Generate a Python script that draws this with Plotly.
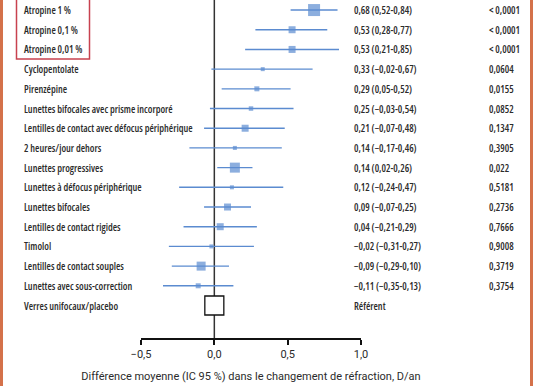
import plotly.graph_objects as go

labels = ["Atropine 1 %", "Atropine 0,1 %", "Atropine 0,01 %", "Cyclopentolate", "Pirenzépine",
          "Lunettes bifocales avec prisme incorporé", "Lentilles de contact avec défocus périphérique",
          "2 heures/jour dehors", "Lunettes progressives", "Lunettes à défocus périphérique",
          "Lunettes bifocales", "Lentilles de contact rigides", "Timolol",
          "Lentilles de contact souples", "Lunettes avec sous-correction"]
ref_label = "Verres unifocaux/placebo"
ref_text = "Référent"
estimate = [0.68, 0.53, 0.53, 0.33, 0.29, 0.25, 0.21, 0.14, 0.14, 0.12, 0.09, 0.04, -0.02, -0.09, -0.11]
ci_low = [0.52, 0.28, 0.21, -0.02, 0.05, -0.03, -0.07, -0.17, 0.02, -0.24, -0.07, -0.21, -0.31, -0.29, -0.35]
ci_high = [0.84, 0.77, 0.85, 0.67, 0.52, 0.54, 0.48, 0.46, 0.26, 0.47, 0.25, 0.29, 0.27, 0.10, 0.13]
p_values = ["< 0,0001", "< 0,0001", "< 0,0001", "0,0604", "0,0155", "0,0852", "0,1347", "0,3905",
            "0,022", "0,5181", "0,2736", "0,7666", "0,9008", "0,3719", "0,3754"]
weights = [12, 7, 7, 4, 5, 4.5, 7, 4, 10, 4, 7, 7, 4, 9, 5]
tick_vals = [-0.5, 0.0, 0.5, 1.0]
tick_text = ["−0,5", "0,0", "0,5", "1,0"]
x_title = "Différence moyenne (IC 95 %) dans le changement de réfraction, D/an"

W, H = 536, 386
L, R, T, B = 141, 175, 0, 48
pw = W - L - R
ph = H - T - B
BLUE = "#5b8bd0"
TXT = "#2b2b2b"
LABEL_FONT = dict(family="Open Sans, Roboto, sans-serif", size=10, color=TXT, weight=600)


def fmt(v):
    s = f"{abs(v):.2f}".replace(".", ",")
    return ("−" + s) if v < 0 else s


rows = list(range(len(labels)))
ref_row = len(labels)

lx, ly = [], []
for i, (lo, hi) in enumerate(zip(ci_low, ci_high)):
    lx += [lo, hi, None]
    ly += [i, i, None]

fig = go.Figure()
fig.add_trace(go.Scatter(x=lx, y=ly, mode="lines", line=dict(color=BLUE, width=1.4),
                         hoverinfo="skip", showlegend=False))
fig.add_trace(go.Scatter(x=estimate, y=rows, mode="markers",
                         marker=dict(symbol="square", size=weights, color=BLUE, line=dict(width=0)),
                         showlegend=False))
fig.add_trace(go.Scatter(x=[0], y=[ref_row], mode="markers",
                         marker=dict(symbol="square", size=19, color="white", line=dict(color="#111", width=1.3)),
                         showlegend=False))


def px2paper(px):
    return (px - L) / pw


ann = []
for i, lab in enumerate(labels + [ref_label]):
    ann.append(dict(x=px2paper(22), y=i, xref="paper", yref="y", text=lab, showarrow=False,
                    xanchor="left", yanchor="middle", align="left", font=LABEL_FONT))
for i in rows:
    ann.append(dict(x=px2paper(352), y=i, xref="paper", yref="y",
                    text=f"{fmt(estimate[i])} ({fmt(ci_low[i])}-{fmt(ci_high[i])})",
                    showarrow=False, xanchor="left", yanchor="middle", align="left", font=LABEL_FONT))
    ann.append(dict(x=px2paper(487), y=i, xref="paper", yref="y", text=p_values[i], showarrow=False,
                    xanchor="left", yanchor="middle", align="left", font=LABEL_FONT))
ann.append(dict(x=px2paper(352), y=ref_row, xref="paper", yref="y", text=ref_text, showarrow=False,
                xanchor="left", yanchor="middle", align="left", font=LABEL_FONT))

shapes = [
    dict(type="line", xref="x", yref="paper", x0=0, x1=0, y0=0, y1=1, line=dict(color="#333", width=1.5), layer="below"),
    dict(type="rect", xref="paper", yref="paper", x0=px2paper(16.5), x1=px2paper(89.5),
         y0=1 - 59 / ph, y1=1.05, line=dict(color="#c8424f", width=1.5)),
    dict(type="rect", xref="paper", yref="paper", x0=px2paper(0), x1=px2paper(3), y0=-B / ph, y1=1,
         line=dict(width=0), fillcolor="#d4714a"),
    dict(type="rect", xref="paper", yref="paper", x0=px2paper(530), x1=px2paper(533), y0=-B / ph, y1=1,
         line=dict(width=0), fillcolor="#d4714a"),
]

fig.update_layout(
    width=W, height=H, autosize=False,
    margin=dict(l=L, r=R, t=T, b=B, pad=0),
    paper_bgcolor="white", plot_bgcolor="white",
    annotations=ann, shapes=shapes,
    xaxis=dict(range=[-0.5, 1.0], tickvals=tick_vals, ticktext=tick_text, showgrid=False, zeroline=False,
               showline=True, linecolor="#111", linewidth=1.5, ticks="outside", ticklen=5, tickwidth=1.5,
               tickcolor="#111", tickfont=dict(family="Roboto, Noto Sans, sans-serif", size=11, color=TXT),
               title=dict(text=x_title, standoff=12,
                          font=dict(family="Roboto, Noto Sans, sans-serif", size=11, color=TXT)),
               fixedrange=True),
    yaxis=dict(range=[16.65, -0.51], showticklabels=False, showgrid=False, zeroline=False,
               showline=False, ticks="", fixedrange=True),
)

post = ("document.body.style.margin='0px';document.body.style.overflow='hidden';"
        "var s=document.createElement('style');"
        "s.textContent='.annotation-text{font-stretch:75% !important;}';"
        "document.head.appendChild(s);")

fig.write_html("out.html", config={"displayModeBar": False}, post_script=post)
